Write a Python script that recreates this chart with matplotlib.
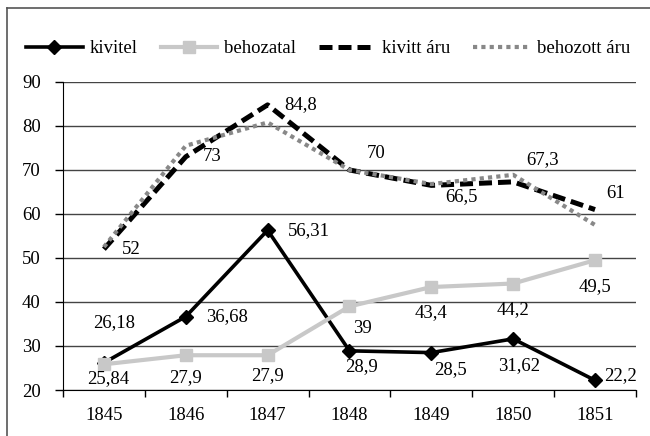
import matplotlib
matplotlib.use('Agg')
import matplotlib.pyplot as plt
from matplotlib.lines import Line2D

plt.rcParams['font.family'] = ['Liberation Serif', 'DejaVu Serif']

years = ['1845', '1846', '1847', '1848', '1849', '1850', '1851']
kivitel = [26.18, 36.68, 56.31, 28.9, 28.5, 31.62, 22.2]
behozatal = [25.84, 27.9, 27.9, 39, 43.4, 44.2, 49.5]
kivitt_aru = [52, 73, 84.8, 70, 66.5, 67.3, 61]
behozott_aru = [52.5, 75.5, 80.8, 70, 66.8, 68.9, 57.5]

kivitel_lbl = ['26,18', '36,68', '56,31', '28,9', '28,5', '31,62', '22,2']
behozatal_lbl = ['25,84', '27,9', '27,9', '39', '43,4', '44,2', '49,5']
kivitt_lbl = ['52', '73', '84,8', '70', '66,5', '67,3', '61']

# label offsets in pixels (dx, dy), ha
kivitel_off = [(-11, 40, 'left'), (20, 0, 'left'), (20, 0, 'left'), (-4, -16, 'left'),
               (3, -17, 'left'), (-15, -27, 'left'), (9, 5, 'left')]
behozatal_off = [(-17, -14, 'left'), (0, -22, 'center'), (0, -20, 'center'), (13, -22, 'center'),
                 (0, -26, 'center'), (0, -26, 'center'), (0, -26, 'center')]
kivitt_off = [(18, 0, 'left'), (17, 0, 'left'), (17, 0, 'left'), (17, 16, 'left'),
              (14, -11, 'left'), (13, 22, 'left'), (11, 16, 'left')]

fig = plt.figure(figsize=(6.5, 4.36), dpi=100)
ax = fig.add_axes([0.0969, 0.1055, 0.8815, 0.7065])

x = list(range(len(years)))
fs = 13.5

ax.plot(x, kivitt_aru, color='black', lw=3.6, dashes=(2.6, 1.2), label='kivitt áru', zorder=3)
ax.plot(x, behozott_aru, color='#888888', lw=3.0, dashes=(1, 1), dash_capstyle='butt',
        label='behozott áru', zorder=4)
ax.plot(x, kivitel, color='black', lw=2.6, marker='D', markersize=7, label='kivitel', zorder=5)
ax.plot(x, behozatal, color='#c8c8c8', lw=3.0, marker='s', markersize=9, label='behozatal', zorder=5.5)

for vals, lbls, offs in [(kivitel, kivitel_lbl, kivitel_off),
                         (behozatal, behozatal_lbl, behozatal_off),
                         (kivitt_aru, kivitt_lbl, kivitt_off)]:
    for i, (v, t, (dx, dy, ha)) in enumerate(zip(vals, lbls, offs)):
        ax.annotate(t, (i, v), xytext=(dx, dy), textcoords='offset pixels',
                    ha=ha, va='center', fontsize=fs, zorder=6)

ax.set_xlim(-0.5, 6.5)
ax.set_ylim(20, 90)
ax.set_yticks(range(20, 91, 10))
ax.set_xticks(x)
ax.set_xticklabels(years)
ax.set_xticks([i - 0.5 for i in range(len(years) + 1)], minor=True)
ax.tick_params(axis='x', which='major', length=0, pad=12, labelsize=fs)
ax.tick_params(axis='x', which='minor', length=5, width=1, color='black')
ax.tick_params(axis='y', length=6, width=1, pad=10, labelsize=fs)

ax.grid(axis='y', color='#444444', lw=1)
ax.set_axisbelow(True)
for s in ['top', 'right']:
    ax.spines[s].set_visible(False)
ax.spines['left'].set_color('black')
ax.spines['bottom'].set_color('black')

handles, labels = ax.get_legend_handles_labels()
order = [2, 3, 0, 1]
fig.legend([handles[i] for i in order], [labels[i] for i in order],
           loc='center', bbox_to_anchor=(0.505, 0.888), ncol=4, frameon=False,
           fontsize=fs, handlelength=3.0, columnspacing=1.2, handletextpad=0.4)

# outer frame (top and left only visible)
fig.add_artist(Line2D([0.011, 1.0], [1 - 8 / 436, 1 - 8 / 436], transform=fig.transFigure,
                      color='#555555', lw=1.2))
fig.add_artist(Line2D([0.011, 0.011], [0.0, 1 - 8 / 436], transform=fig.transFigure,
                      color='#555555', lw=1.2))

fig.savefig('out.png', dpi=100)
